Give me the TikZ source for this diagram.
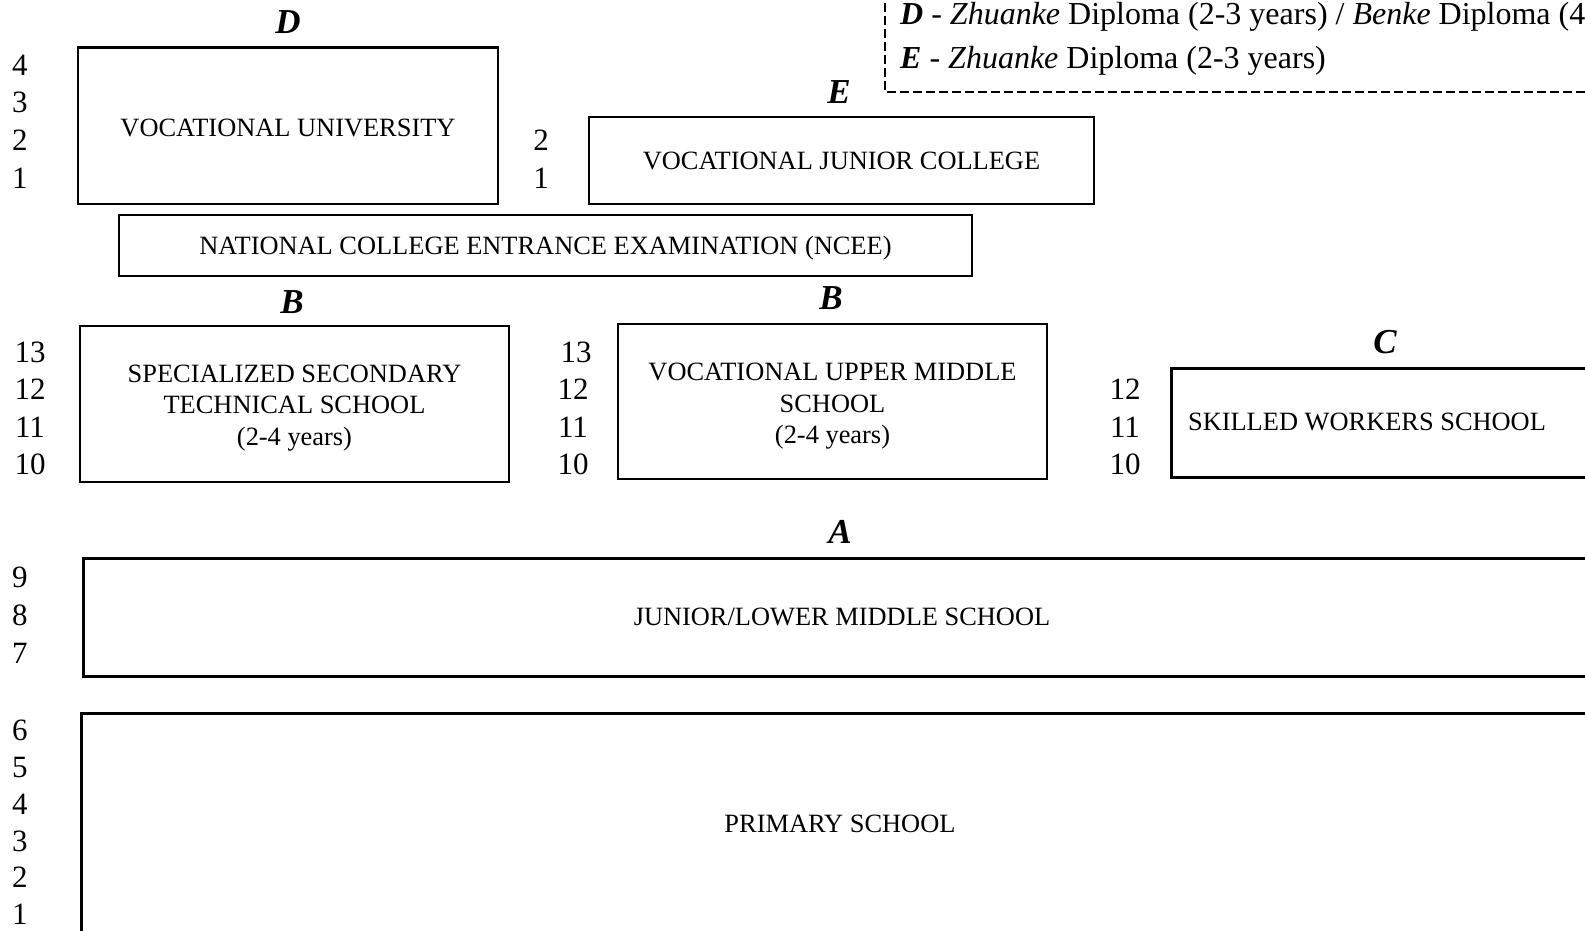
\documentclass[tikz,border=0pt]{standalone}
\usepackage{fontspec}
\setmainfont{Liberation Serif}
\begin{document}
\begin{tikzpicture}[x=1pt,y=-1pt,
  box/.style={draw=black,line width=2.5pt,rectangle,inner sep=0pt},
  txt/.style={inner sep=0pt,align=center,font=\fontsize{26.4}{31.5}\selectfont},
  yr/.style={inner sep=0pt,font=\fontsize{31}{34}\selectfont},
  lbl/.style={inner sep=0pt,font=\fontsize{35}{38}\selectfont\bfseries\itshape},
  legtxt/.style={inner sep=0pt,anchor=west,font=\fontsize{32}{36}\selectfont},
  legline/.style={draw=black,line width=1.8pt,dash pattern=on 9pt off 4pt}]
\useasboundingbox (0,0) rectangle (1585,930);
\clip (0,0) rectangle (1585,930);

% legend
\draw[legline] (885,-10) -- (885,92) -- (1620,92);
\node[legtxt] (legD) at (900,17) {\textbf{\textit{D}} - \textit{Zhuanke} Diploma (2-3 years) / \textit{Benke} Diploma (4};
\node[legtxt] (legE) at (900,61) {\textbf{\textit{E}} - \textit{Zhuanke} Diploma (2-3 years)};

% vocational university
\node[lbl] (labD) at (288,22) {D};
\node[box,minimum width=420,minimum height=156.5] (vu) at (288,125.75) {};
\node[txt] (vut) at ([yshift=-2pt]vu.center) {VOCATIONAL UNIVERSITY};
\node[yr] (vu4) at (20,65) {4};
\node[yr] (vu3) at (20,102) {3};
\node[yr] (vu2) at (20,140) {2};
\node[yr] (vu1) at (20,178) {1};

% vocational junior college
\node[lbl] (labE) at (839,92) {E};
\node[box,minimum width=505,minimum height=87] (vjc) at (841.5,160.5) {};
\node[txt] (vjct) at (vjc.center) {VOCATIONAL JUNIOR COLLEGE};
\node[yr] (vjc2) at (541,140) {2};
\node[yr] (vjc1) at (541,178) {1};

% NCEE
\node[box,minimum width=853,minimum height=61] (ncee) at (545.5,245.5) {};
\node[txt] (nceet) at ([yshift=-3pt]ncee.center) {NATIONAL COLLEGE ENTRANCE EXAMINATION (NCEE)};

% specialized secondary technical school
\node[lbl] (labB1) at (292,302) {B};
\node[box,minimum width=429,minimum height=156] (ssts) at (294.5,404) {};
\node[txt] (sstst) at ([yshift=-4pt]ssts.center) {SPECIALIZED SECONDARY\\TECHNICAL SCHOOL\\(2-4 years)};
\node[yr] (s13) at (30,352) {13};
\node[yr] (s12) at (30,389) {12};
\node[yr] (s11) at (30,427) {11};
\node[yr] (s10) at (30,464) {10};

% vocational upper middle school
\node[lbl] (labB2) at (831,298) {B};
\node[box,minimum width=429,minimum height=155] (vums) at (832.5,401.5) {};
\node[txt] (vumst) at ([yshift=-5pt]vums.center) {VOCATIONAL UPPER MIDDLE\\SCHOOL\\(2-4 years)};
\node[yr] (v13) at (576,352) {13};
\node[yr] (v12) at (573,389) {12};
\node[yr] (v11) at (573,427) {11};
\node[yr] (v10) at (573,464) {10};

% skilled workers school
\node[lbl] (labC) at (1385,342) {C};
\node[box,minimum width=450,minimum height=109,anchor=north west] (sws) at (1170,367) {};
\node[txt] (swst) at (1367,422) {SKILLED WORKERS SCHOOL};
\node[yr] (w12) at (1125,389) {12};
\node[yr] (w11) at (1125,427) {11};
\node[yr] (w10) at (1125,464) {10};

% junior middle school
\node[lbl] (labA) at (840,532) {A};
\node[box,minimum width=1538,minimum height=118,anchor=north west] (jms) at (82,557) {};
\node[txt] (jmst) at (842,617) {JUNIOR/LOWER MIDDLE SCHOOL};
\node[yr] (j9) at (20,577) {9};
\node[yr] (j8) at (20,615) {8};
\node[yr] (j7) at (20,653) {7};

% primary school
\node[box,minimum width=1540,minimum height=260,anchor=north west] (ps) at (80,712) {};
\node[txt] (pst) at (840,824) {PRIMARY SCHOOL};
\node[yr] (p6) at (20,730) {6};
\node[yr] (p5) at (20,767) {5};
\node[yr] (p4) at (20,804) {4};
\node[yr] (p3) at (20,841) {3};
\node[yr] (p2) at (20,877) {2};
\node[yr] (p1) at (20,914) {1};
\end{tikzpicture}
\end{document}
